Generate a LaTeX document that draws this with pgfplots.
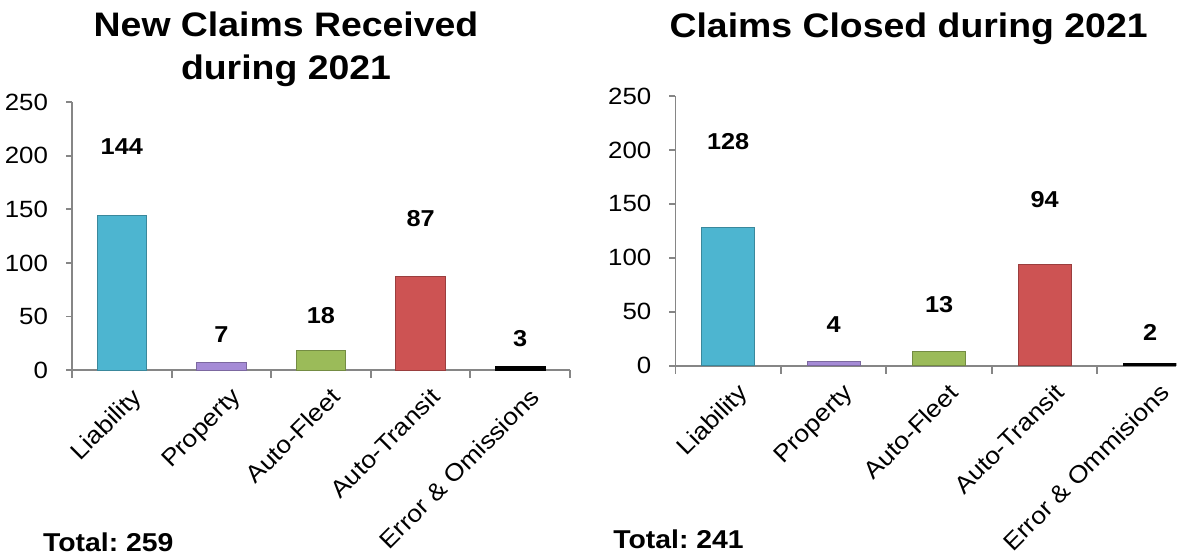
\documentclass[border=0pt]{standalone}
\usepackage{fontspec}
\setmainfont[FakeStretch=1.1]{Liberation Sans}
\usepackage{pgfplots}
\pgfplotsset{compat=1.18}
\definecolor{cblue}{HTML}{4DB5D0}
\definecolor{cpurple}{HTML}{A58BD6}
\definecolor{cgreen}{HTML}{9BBB59}
\definecolor{cred}{HTML}{CD5353}
\definecolor{axisgray}{HTML}{868686}
\pgfplotsset{
  claims/.style={
    scale only axis,
    anchor=south west,
    axis lines=left,
    axis line style={-, draw=axisgray, line width=0.9pt},
    ymin=0, ymax=250,
    xmin=-0.5,
    ytick={0,50,100,150,200,250},
    xtick={0,1,2,3,4},
    major x tick style={draw=none},
    minor tick length=4pt,
    major tick length=3pt,
    tick align=outside,
    tick style={draw=axisgray, line width=0.9pt},
    /pgf/number format/assume math mode=true,
    yticklabel style={font=\fontsize{11.75}{12}\selectfont, xshift=-5.5pt},
    xticklabel style={font=\fontsize{12}{13}\selectfont, rotate=45, anchor=north east, inner sep=1pt, xshift=0.5pt, yshift=-5.5pt},
    clip=true,
  },
}
\tikzset{dlabel/.style={font=\bfseries\fontsize{11.5}{12}\selectfont}}
\begin{document}
\frenchspacing
\begin{tikzpicture}
\path[use as bounding box] (0,0) rectangle (599pt,278.5pt);
% titles
\node[anchor=base, font=\bfseries\fontsize{17}{20}\selectfont] at (143pt,260pt) {New Claims Received};
\node[anchor=base, font=\bfseries\fontsize{17}{20}\selectfont] at (143pt,238.5pt) {during 2021};
\node[anchor=base, font=\bfseries\fontsize{17}{20}\selectfont] at (454.3pt,259.5pt) {Claims Closed during 2021};
\node[anchor=base west, inner sep=0pt, font=\bfseries\fontsize{12.9}{14}\selectfont] at (21.35pt,2.65pt) {Total: 259};
\node[anchor=base west, inner sep=0pt, font=\bfseries\fontsize{12.9}{14}\selectfont] at (306.5pt,4.5pt) {Total: 241};

\begin{axis}[claims,
  at={(36pt,93.5pt)}, width=249pt, height=133.85pt,
  xmax=4.5,
  minor xtick={-0.5,0.5,1.5,2.5,3.5,4.5},
  xticklabels={Liability,Property,Auto-Fleet,Auto-Transit,Error \& Omissions},
]
\addplot[ybar, bar width=0.5, fill=cblue, draw=cblue!75!black] coordinates {(0,144)};
\addplot[ybar, bar width=0.5, fill=cpurple, draw=cpurple!75!black] coordinates {(1,7)};
\addplot[ybar, bar width=0.5, fill=cgreen, draw=cgreen!75!black] coordinates {(2,18)};
\addplot[ybar, bar width=0.5, fill=cred, draw=cred!75!black] coordinates {(3,87)};
\addplot[ybar, bar width=0.5, fill=black, draw=black] coordinates {(4,3)};
\node[dlabel] at (axis cs:0,209) {144};
\node[dlabel] at (axis cs:1,33) {7};
\node[dlabel] at (axis cs:2,51) {18};
\node[dlabel] at (axis cs:3,141) {87};
\node[dlabel] at (axis cs:4,29) {3};
\end{axis}

\begin{axis}[claims,
  at={(337.7pt,95.65pt)}, width=250.5pt, height=134.85pt,
  xmax=4.25,
  minor xtick={-0.5,0.5,1.5,2.5,3.5},
  xticklabels={Liability,Property,Auto-Fleet,Auto-Transit,Error \& Ommisions},
]
\addplot[ybar, bar width=0.5, fill=cblue, draw=cblue!75!black] coordinates {(0,128)};
\addplot[ybar, bar width=0.5, fill=cpurple, draw=cpurple!75!black] coordinates {(1,4)};
\addplot[ybar, bar width=0.5, fill=cgreen, draw=cgreen!75!black] coordinates {(2,13)};
\addplot[ybar, bar width=0.5, fill=cred, draw=cred!75!black] coordinates {(3,94)};
\addplot[ybar, bar width=0.5, fill=black, draw=black] coordinates {(4,2)};
\node[dlabel] at (axis cs:0,208) {128};
\node[dlabel] at (axis cs:1,38) {4};
\node[dlabel] at (axis cs:2,57) {13};
\node[dlabel] at (axis cs:3,154) {94};
\node[dlabel] at (axis cs:4,31) {2};
\end{axis}
\end{tikzpicture}
\end{document}
